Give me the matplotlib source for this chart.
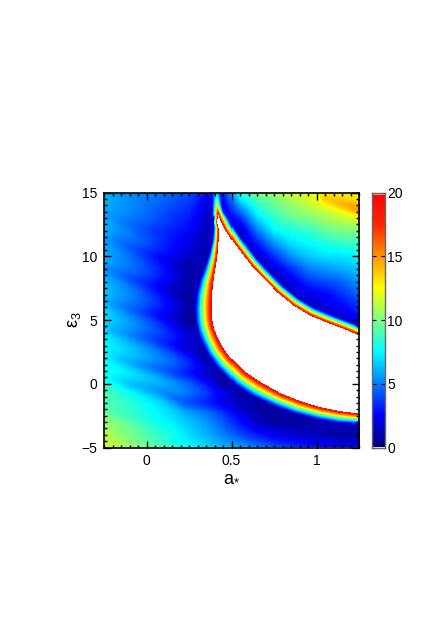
import numpy as np
import matplotlib
matplotlib.use("Agg")
import matplotlib.pyplot as plt
from matplotlib.colors import LinearSegmentedColormap
from matplotlib.ticker import MultipleLocator

plt.rcParams['font.family'] = ['Liberation Sans', 'DejaVu Sans']
plt.rcParams['mathtext.fontset'] = 'custom'
plt.rcParams['mathtext.rm'] = 'Liberation Sans'
plt.rcParams['mathtext.it'] = 'Liberation Sans'

# Smooth background values (rows e3 = 15 ... -5, columns a = -0.25 ... 1.25)
a_cols = [-.25, -.15, -.05, .05, .15, .25, .35, .45, .55, .65, .75, .85, .95, 1.05, 1.15, 1.25]
e3_rows = [15, 14, 13, 12, 11, 10, 9, 8, 7, 6, 5, 4, 3, 2, 1, 0, -1, -2, -3, -4, -5]
background = [
    [6.0, 5.5, 5.0, 5.0, 4.5, 4.0, 3.0, 3.0, 8.5, 10., 10.5, 11.5, 12., 12.5, 12.8, 13.],
    [6.0, 5.5, 5.0, 4.5, 4.0, 3.5, 2.0, 2.0, 6.0, 8.5, 9.5, 10.5, 11.3, 12., 12.5, 13.],
    [6.0, 5.5, 4.8, 4.2, 3.5, 3.0, 1.5, 1.5, 3.5, 7.0, 8.5, 9.5, 10., 10.8, 11.3, 12.],
    [6.0, 5.3, 4.6, 3.8, 3.2, 2.6, 1.2, 2.0, 1.5, 5.0, 7.5, 8.0, 8.5, 9.5, 10., 10.],
    [6.0, 5.2, 4.5, 3.6, 2.8, 2.0, 1.0, 3.0, 1.0, 3.0, 5.5, 7.0, 7.5, 8.0, 8.5, 8.5],
    [6.0, 5.2, 4.4, 3.4, 2.5, 1.4, 1.0, 2.0, 1.0, 1.5, 3.5, 5.5, 6.5, 7.0, 7.0, 7.5],
    [6.0, 5.2, 4.4, 3.4, 2.2, 1.0, 1.2, 2.0, 1.0, 1.0, 2.0, 3.5, 5.0, 5.5, 6.0, 6.5],
    [6.2, 5.4, 4.5, 3.4, 2.0, 0.8, 1.8, 2.0, 1.0, 1.0, 1.0, 2.0, 3.5, 4.0, 4.5, 5.5],
    [6.5, 5.6, 4.6, 3.4, 2.0, 0.7, 2.5, 2.0, 1.0, 1.0, 1.0, 1.5, 2.0, 2.5, 3.5, 4.5],
    [6.8, 5.8, 4.8, 3.6, 2.2, 0.6, 2.5, 2.0, 1.0, 1.0, 1.0, 1.0, 1.5, 2.0, 2.5, 3.5],
    [7.0, 6.0, 5.0, 3.8, 2.4, 0.6, 2.0, 2.0, 1.0, 1.0, 1.0, 1.0, 1.0, 1.0, 1.5, 2.5],
    [7.2, 6.4, 5.3, 4.2, 3.0, 1.4, 1.2, 2.0, 1.0, 1.0, 1.0, 1.0, 1.0, 1.0, 1.0, 1.0],
    [7.5, 6.8, 5.8, 4.8, 3.6, 2.0, 0.8, 2.0, 1.0, 1.0, 1.0, 1.0, 1.0, 1.0, 1.0, 1.0],
    [7.8, 7.2, 6.4, 5.4, 4.4, 3.0, 1.0, 0.8, 1.0, 1.0, 1.0, 1.0, 1.0, 1.0, 1.0, 1.0],
    [8.0, 7.5, 6.8, 6.0, 5.0, 3.8, 2.0, 0.6, 1.0, 1.0, 1.0, 1.0, 1.0, 1.0, 1.0, 1.0],
    [8.5, 7.8, 7.0, 6.4, 5.5, 4.5, 3.0, 0.8, 0.8, 1.0, 1.0, 1.0, 1.0, 1.0, 1.0, 1.0],
    [9.0, 8.3, 7.5, 6.8, 6.0, 5.0, 4.0, 2.4, 0.8, 0.8, 1.0, 1.0, 1.0, 1.0, 1.0, 1.0],
    [9.5, 9.0, 8.2, 7.4, 6.5, 5.5, 4.5, 3.2, 1.6, 0.7, 0.8, 1.0, 1.0, 1.0, 1.0, 1.0],
    [10.3, 9.8, 9.0, 8.2, 7.2, 6.3, 5.5, 4.2, 2.6, 1.2, 0.6, 0.6, 0.8, 1.2, 1.5, 1.5],
    [11., 10.2, 9.4, 8.6, 7.8, 6.8, 6.0, 5.0, 3.8, 2.8, 2.0, 1.5, 1.2, 0.9, 0.7, 0.7],
    [11.5, 11., 10., 9.2, 8.2, 7.5, 6.8, 6.0, 5.5, 4.7, 4.0, 3.5, 3.0, 2.6, 2.2, 2.0],
]

# Tilted streaks: a, e3 and relative strength along each (negative = brighter)
streak_a = [
    [-.25, -.075, .12, .30],
    [-.25, -.015, .238, .32],
    [-.25, -.075, .20, .30],
    [-.25, -.05, .228, .30],
    [-.25, .023, .296, .36],
    [-.25, -.055, .16, .392, .50],
    [-.25, -.13, .06, .22, .45, .60],
    [-.25, -.19, .02, .20],
    [1.0, 1.03, 1.25],
]
streak_e3 = [
    [13.4, 12.4, 11.8, 11.3],
    [11.5, 10.2, 9.1, 8.7],
    [8.9, 8.1, 7.1, 6.9],
    [6.4, 5.7, 4.87, 4.6],
    [4.3, 3.43, 2.51, 2.2],
    [2.2, 1.47, .84, .55, .1],
    [.5, .06, -.62, -1.5, -1.5, -1.9],
    [-2.1, -2.3, -2.85, -3.0],
    [14.7, 14.6, 13.6],
]
streak_strength = [
    [.06, .08, .05, 0],
    [.07, .14, .25, .1],
    [.1, .16, .3, .1],
    [.1, .15, .3, .1],
    [.08, .16, .3, .1],
    [.05, .16, .22, .3, 0],
    [.05, .13, .15, .22, .25, 0],
    [.03, .05, .05, 0],
    [0, -.1, -.17],
]
streak_sigma = 0.55

# Outline of the white (off-scale) region, with band width in pixels
edge_a = [.421, .415, .424, .424, .421, .415, .404, .392, .384, .383, .386, .395, .415, .444,
          .491, .579, .667, .784, .901, 1.018, 1.135, 1.246, 1.27,
          1.27, 1.246, 1.164, 1.058, .959, .860, .766, .667, .608, .509, .462, .433, .421]
edge_e3 = [13.31, 12.65, 12.2, 11.27, 10.72, 9.86, 8.92, 7.9, 6.8, 5.78, 5.0, 4.37, 3.67, 2.88,
           2.02, .84, .06, -.80, -1.43, -1.90, -2.22, -2.40, -2.42,
           3.62, 3.77, 4.22, 4.76, 5.31, 6.10, 7.12, 8.45, 9.31, 11.04, 12.06, 12.84, 13.31]
edge_width = [4, 4, 5, 6, 7, 9, 11, 14, 16, 17, 17, 17, 17, 17,
              17, 17, 17, 15, 14, 13, 12, 11, 11,
              9, 9, 9, 9, 9, 9, 9, 9, 9, 9, 8, 8, 6]

# Thin ridge above the tip of the white region
ridge_a = [0.421, 0.415, 0.412]
ridge_e3 = [13.31, 14.0, 15.0]
ridge_peak = [20, 12.5, 7]
ridge_width = [6, 5, 4]

# Colour bar stops (value, colour)
stops = [(0, (0, 0, .5)), (2.5, (0, 0, 1)), (7.5, (0, 1, 1)), (12.5, (1, 1, 0)),
         (17.5, (1, .15, 0)), (20, (1, 0, 0))]
cmap = LinearSegmentedColormap.from_list('j', [(v / 20, c) for v, c in stops], N=256)
cmap.set_bad('white')

fig = plt.figure(figsize=(4.36, 6.17), dpi=100)
W, H = 436, 617
L, R, T, B = 104, 359, 192.5, 447.5
ax = fig.add_axes([L / W, 1 - B / H, (R - L) / W, (B - T) / H])
cax = fig.add_axes([372 / W, 1 - B / H, 13 / W, (B - T) / H])

xlim = (-0.25, 1.25)
ylim = (-5, 15)
n = 255
xg = np.linspace(*xlim, n)
yg = np.linspace(*ylim, n)
px = (R - L) / (xlim[1] - xlim[0])
py = (B - T) / (ylim[1] - ylim[0])
Xg, Yg = np.meshgrid(xg, yg)

rows = np.array(e3_rows)[::-1]
M = np.array(background, float)[::-1]
tmp = np.array([np.interp(xg, a_cols, r) for r in M])
bg = np.array([np.interp(yg, rows, c) for c in tmp.T]).T

for sa, se, ss in zip(streak_a, streak_e3, streak_strength):
    ce = np.interp(xg, sa, se)
    st = np.interp(xg, sa, ss, left=0, right=0)
    bg *= 1 - st[None, :] * np.exp(-((Yg - ce[None, :]) / streak_sigma) ** 2)


def dist_param(xs, ys):
    """Distance in pixels from each grid node to a polyline, and the fractional vertex index."""
    xs = np.asarray(xs) * px
    ys = np.asarray(ys) * py
    best = np.full(Xg.shape, 1e9)
    idx = np.zeros(Xg.shape)
    for i in range(len(xs) - 1):
        dx, dy = xs[i + 1] - xs[i], ys[i + 1] - ys[i]
        t = ((Xg * px - xs[i]) * dx + (Yg * py - ys[i]) * dy) / max(dx * dx + dy * dy, 1e-9)
        t = np.clip(t, 0, 1)
        d = np.hypot(Xg * px - xs[i] - t * dx, Yg * py - ys[i] - t * dy)
        m = d < best
        best[m] = d[m]
        idx[m] = i + t[m]
    return best, idx


def rise(d, w):
    return np.clip(1 - d / w, 0, 1)


field = bg.copy()
d, k = dist_param(edge_a, edge_e3)
w = np.interp(k, np.arange(len(edge_width)), edge_width)
field = field + (20 - field) * rise(d, w)

d2, k2 = dist_param(ridge_a, ridge_e3)
w2 = np.interp(k2, np.arange(len(ridge_width)), ridge_width)
p2 = np.interp(k2, np.arange(len(ridge_peak)), ridge_peak)
field = np.maximum(field, bg + (p2 - bg) * rise(d2, w2))

# inside test for the white region
inside = np.zeros(Xg.shape, bool)
ex, ey = np.array(edge_a), np.array(edge_e3)
for i in range(len(ex) - 1):
    c = ((ey[i] > Yg) != (ey[i + 1] > Yg))
    with np.errstate(divide='ignore', invalid='ignore'):
        xint = ex[i] + (Yg - ey[i]) / (ey[i + 1] - ey[i]) * (ex[i + 1] - ex[i])
    inside ^= c & (Xg < xint)
field[inside] = np.nan

ax.imshow(np.ma.masked_invalid(field), origin='lower', extent=[*xlim, *ylim], aspect='auto',
          cmap=cmap, vmin=0, vmax=20, interpolation='nearest')
ax.set_xlim(*xlim)
ax.set_ylim(*ylim)
ax.set_xticks([0, 0.5, 1])
ax.set_xticklabels(['0', '0.5', '1'])
ax.set_yticks([-5, 0, 5, 10, 15])
ax.set_yticklabels(['\u22125', '0', '5', '10', '15'])
ax.xaxis.set_minor_locator(MultipleLocator(0.05))
ax.yaxis.set_minor_locator(MultipleLocator(0.5))
ax.tick_params(which='major', direction='in', top=True, right=True, length=5, width=1.0, labelsize=10, pad=5)
ax.tick_params(which='minor', direction='in', top=True, right=True, length=2.5, width=1.0)
for s in ax.spines.values():
    s.set_linewidth(1.2)
ax.set_xlabel('a$_{*}$', fontsize=13, labelpad=0)
ax.set_ylabel('\u03b5$_{3}$', fontsize=13, labelpad=-1)

vals = np.linspace(0, 20, 256)[:, None]
cax.imshow(vals, origin='lower', extent=[0, 1, 0, 20], aspect='auto', cmap=cmap, vmin=0, vmax=20)
cax.axhspan(19.8, 20, color='#e8a8a0', lw=0)
cax.set_xticks([])
cax.yaxis.tick_right()
cax.set_yticks([0, 5, 10, 15, 20])
cax.tick_params(direction='in', length=3, width=0.8, labelsize=10, pad=1.5, left=True, right=True)
for s in cax.spines.values():
    s.set_linewidth(1.0)
    s.set_color('#666666')

fig.savefig('out.png', dpi=100)
